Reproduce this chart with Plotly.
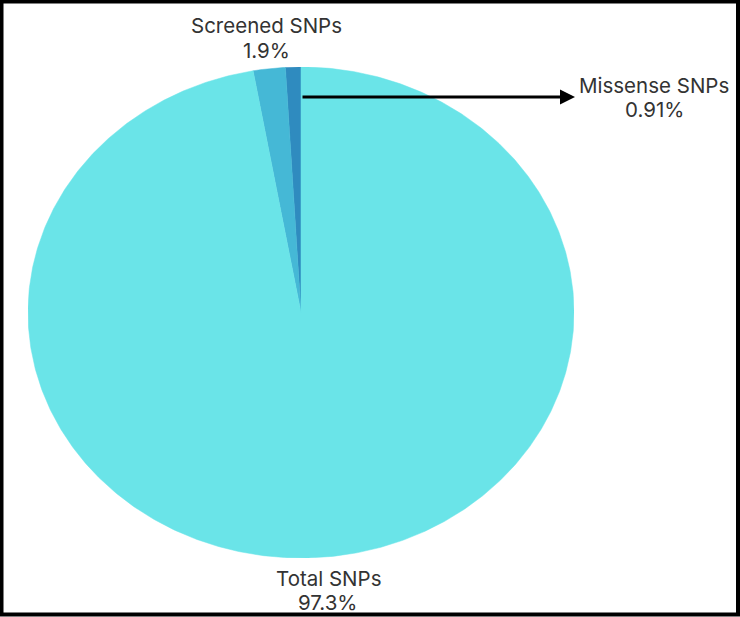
import numpy as np
import plotly.graph_objects as go

# ---- data ----
categories = ["Missense SNPs", "Screened SNPs", "Total SNPs"]
values = [0.91, 1.9, 97.3]
percent_labels = ["0.91%", "1.9%", "97.3%"]

# ---- style ----
colors = ["#2f8bbf", "#45b8d6", "#6ae4e8"]
W, H = 740, 617
pie_left, pie_right, pie_top, pie_bottom = 28, 574, 67, 558
# (x center, y of name line, y of percent line) in pixels
label_px = {"Missense SNPs": (654, 85, 109),
            "Screened SNPs": (266, 25, 50),
            "Total SNPs": (328, 578, 602)}
FONT = "Inter"
FSIZE = 20.5

fig = go.Figure()

total = float(sum(values))
start = 0.0
for cat, val, col in zip(categories, values, colors):
    frac = val / total
    t = np.linspace(start, start + frac * 2 * np.pi, max(3, int(frac * 720) + 2))
    xs = np.concatenate([[0.0], -np.sin(t), [0.0]])
    ys = np.concatenate([[0.0], np.cos(t), [0.0]])
    fig.add_trace(go.Scatter(x=xs, y=ys, mode="lines", fill="toself",
                             fillcolor=col, line=dict(color=col, width=0.5),
                             name=cat, hoverinfo="name", showlegend=False))
    start += frac * 2 * np.pi

fig.update_xaxes(range=[-1, 1], visible=False,
                 domain=[pie_left / W, pie_right / W])
fig.update_yaxes(range=[-1, 1], visible=False,
                 domain=[1 - pie_bottom / H, 1 - pie_top / H])

# labels
for cat, pct in zip(categories, percent_labels):
    px, py1, py2 = label_px[cat]
    for txt, py in ((cat, py1), (pct, py2)):
        fig.add_annotation(x=px / W, y=1 - py / H, xref="paper", yref="paper",
                           text=txt, showarrow=False,
                           xanchor="center", yanchor="middle",
                           font=dict(family=FONT, size=FSIZE, color="#333333"))

# arrow pointing to missense label
ry = (pie_bottom - pie_top) / 2
cy = (pie_bottom + pie_top) / 2
rx = (pie_right - pie_left) / 2
cx = (pie_right + pie_left) / 2
arrow_y = (cy - 97) / ry
fig.add_annotation(x=(575 - cx) / rx, y=arrow_y, ax=0.0, ay=arrow_y,
                   xref="x", yref="y", axref="x", ayref="y",
                   text="", showarrow=True, arrowhead=2, arrowsize=1,
                   arrowwidth=3, arrowcolor="#000000")

# outer border
fig.add_shape(type="rect", xref="paper", yref="paper",
              x0=1.5 / W, x1=738 / W, y0=1 - 614.5 / H, y1=1 - 1.5 / H,
              line=dict(color="#000000", width=4))

fig.update_layout(width=W, height=H, margin=dict(l=0, r=0, t=0, b=0),
                  paper_bgcolor="white", plot_bgcolor="white",
                  showlegend=False)

fig.write_html("out.html",
               config={"displayModeBar": False},
               post_script="document.body.style.margin='0';"
                           "document.body.style.overflow='hidden';")
